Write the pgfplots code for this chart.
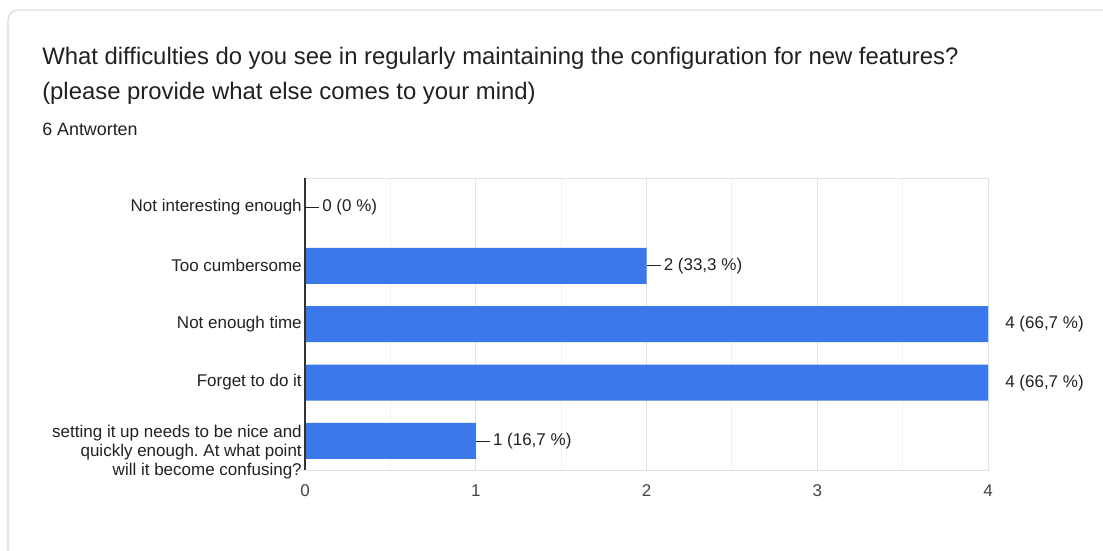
\documentclass[border=0pt]{standalone}
\usepackage{fontspec}
\setmainfont{Liberation Sans}
\usepackage{pgfplots}
\pgfplotsset{compat=1.18}
\usepackage{pgfplotstable}
\frenchspacing

\definecolor{barblue}{RGB}{59,120,233}
\definecolor{titletext}{RGB}{32,33,36}
\definecolor{labeltext}{RGB}{34,34,34}
\definecolor{ticktext}{RGB}{68,68,68}
\definecolor{majorgrid}{RGB}{226,226,226}
\definecolor{minorgrid}{RGB}{242,242,242}
\definecolor{cardborder}{RGB}{218,220,224}
\definecolor{axisdark}{RGB}{51,51,51}

% answers per option: row position (top row = 4), count, share in percent
\pgfplotstableread{
pos value pct
4 0 {0}
3 2 {33,3}
2 4 {66,7}
1 4 {66,7}
0 1 {16,7}
}\answers

% value label with a short leader line, dropped where it would leave the plot area
\newcommand\valuelabel{%
  \pgfmathparse{\pgfkeysvalueof{/data point/x}<3.9 ? 1 : 0}%
  \ifnum\pgfmathresult=1 \textcolor{labeltext}{\rule[0.22em]{10.5pt}{0.75pt}}\hspace{2.25pt}\else\hspace{12.75pt}\fi
  \pgfmathprintnumber[fixed,precision=0,assume math mode=true]{\pgfkeysvalueof{/data point/x}}\ (\pgfplotspointmeta\ \%)}

\begin{document}
\begin{tikzpicture}[x=0.75pt,y=0.75pt]
\path[use as bounding box] (0,0) rectangle (1103,550);
\fill[white] (0,0) rectangle (1103,550);
% card outline
\draw[cardborder, line width=0.9pt] (8,-10) -- (8,530) arc[start angle=180,end angle=90,radius=10] -- (1120,540);

\node[anchor=base west, inner sep=0pt, text=titletext, font=\fontsize{17.9pt}{26.25pt}\selectfont]
  at (42,485) {What difficulties do you see in regularly maintaining the configuration for new features?};
\node[anchor=base west, inner sep=0pt, text=titletext, font=\fontsize{17.9pt}{26.25pt}\selectfont]
  at (42,450) {(please provide what else comes to your mind)};
\node[anchor=base west, inner sep=0pt, text=titletext, font=\fontsize{13.4pt}{15pt}\selectfont]
  at (42,414) {6 Antworten};

% the origin (0,0) of the data sits at the left end of the bottom row
\begin{axis}[
  at={(228.75pt,81.75pt)}, anchor=origin,
  scale only axis,
  width=512.25pt, height=219pt,
  xmin=0, xmax=4,
  ymin=-0.5, ymax=4.5,
  xtick={0,1,2,3,4},
  minor xtick={0.5,1.5,2.5,3.5},
  ytick={0,1,2,3,4},
  yticklabels={
    {\rule{0pt}{26pt}setting it up needs to be nice and\\quickly enough. At what point\\will it become confusing?},
    Forget to do it, Not enough time, Too cumbersome, Not interesting enough},
  xmajorgrids, xminorgrids,
  major grid style={majorgrid, line width=0.75pt},
  minor grid style={minorgrid, line width=0.75pt},
  axis line style={majorgrid, line width=0.75pt},
  major tick length=0pt, minor tick length=0pt,
  tick style={draw=none},
  /pgf/number format/assume math mode=true,
  xticklabel style={text=ticktext, font=\fontsize{12.75pt}{14.25pt}\selectfont, yshift=-7.5pt},
  yticklabel style={text=labeltext, font=\fontsize{12.75pt}{14.25pt}\selectfont,
    align=right, inner sep=0pt, xshift=-2.25pt},
  clip=false,
  point meta=explicit symbolic,
  nodes near coords={\valuelabel},
  nodes near coords style={anchor=west, inner sep=0pt, text=labeltext,
    font=\fontsize{12.75pt}{14.25pt}\selectfont},
]
\addplot[xbar, bar width=27pt, fill=barblue, draw=none] table[x=value, y=pos, meta=pct] {\answers};
\draw[axisdark, line width=1pt] (axis cs:0,-0.5) -- (axis cs:0,4.5);
\end{axis}
\end{tikzpicture}
\end{document}
